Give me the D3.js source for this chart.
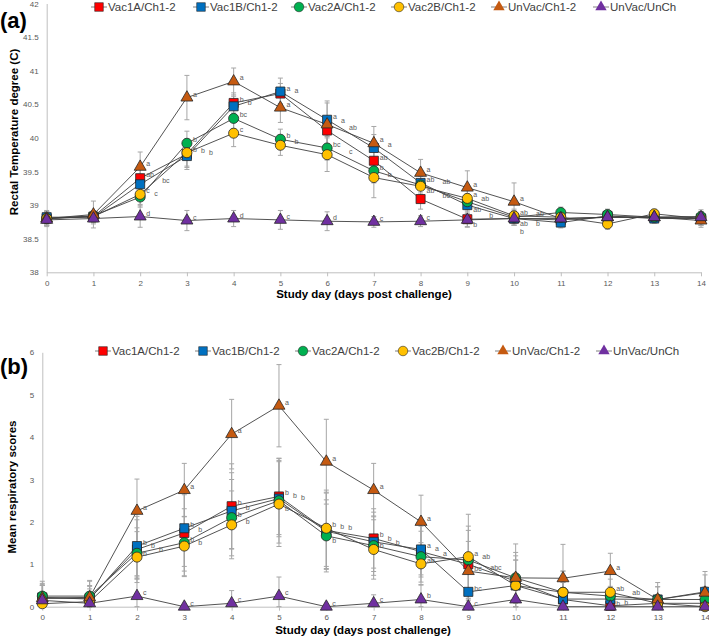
<!DOCTYPE html>
<html>
<head>
<meta charset="utf-8">
<script src="https://cdn.jsdelivr.net/npm/d3@7"></script>
<style>
  body { margin: 0; background: #fff; }
  text { font-family: "Liberation Sans", Arial, sans-serif; }
</style>
</head>
<body>
<div class="chart_area"></div>
<script>
var days = d3.range(0, 15);

var series_names = ["Vac1A/Ch1-2", "Vac1B/Ch1-2", "Vac2A/Ch1-2", "Vac2B/Ch1-2", "UnVac/Ch1-2", "UnVac/UnCh"];
var series_colors = ["#ff0000", "#0070c0", "#00b050", "#ffc000", "#c55a11", "#7030a0"];
var series_shapes = ["square", "square", "circle", "circle", "triangle", "triangle"];

// (a) rectal temperature
var temp_vac1a   = [38.80, 38.83, 39.40, 39.76, 40.52, 40.66, 40.11, 39.66, 39.09, 38.79, 38.80, 38.78, 38.82, 38.82, 38.80];
var temp_vac1b   = [38.82, 38.82, 39.31, 39.73, 40.47, 40.69, 40.27, 39.85, 39.33, 39.00, 38.80, 38.74, 38.84, 38.80, 38.80];
var temp_vac2a   = [38.80, 38.84, 39.12, 39.92, 40.29, 39.98, 39.85, 39.51, 39.30, 39.05, 38.82, 38.89, 38.86, 38.82, 38.83];
var temp_vac2b   = [38.80, 38.83, 39.16, 39.78, 40.07, 39.89, 39.75, 39.41, 39.28, 39.10, 38.84, 38.82, 38.72, 38.87, 38.80];
var temp_unvacch = [38.80, 38.86, 39.57, 40.60, 40.84, 40.45, 40.20, 39.92, 39.48, 39.26, 39.05, 38.80, 38.82, 38.82, 38.77];
var temp_unvacun = [38.78, 38.80, 38.83, 38.77, 38.80, 38.78, 38.76, 38.75, 38.76, 38.78, 38.80, 38.80, 38.82, 38.82, 38.82];

var temp_err_vac1a   = [0.10, 0.08, 0.15, 0.20, 0.15, 0.15, 0.20, 0.20, 0.15, 0.12, 0.10, 0.08, 0.08, 0.07, 0.10];
var temp_err_vac1b   = [0.10, 0.08, 0.15, 0.20, 0.15, 0.20, 0.25, 0.20, 0.15, 0.12, 0.10, 0.08, 0.08, 0.07, 0.10];
var temp_err_vac2a   = [0.10, 0.08, 0.15, 0.18, 0.15, 0.15, 0.18, 0.18, 0.15, 0.12, 0.10, 0.08, 0.08, 0.07, 0.10];
var temp_err_vac2b   = [0.10, 0.08, 0.15, 0.20, 0.20, 0.15, 0.25, 0.30, 0.15, 0.12, 0.10, 0.08, 0.08, 0.07, 0.10];
var temp_err_unvacch = [0.10, 0.20, 0.22, 0.33, 0.20, 0.22, 0.35, 0.25, 0.20, 0.25, 0.28, 0.10, 0.08, 0.07, 0.10];
var temp_err_unvacun = [0.10, 0.08, 0.16, 0.15, 0.12, 0.14, 0.14, 0.08, 0.08, 0.10, 0.10, 0.08, 0.08, 0.07, 0.08];

var temp_lab_vac1a   = ["", "", "ab", "b", "b", "a", "ab", "ab", "bc", "b", "ab", "", "", "", ""];
var temp_lab_vac1b   = ["", "", "bc", "b", "b", "a", "a", "a", "ab", "ab", "b", "", "", "", ""];
var temp_lab_vac2a   = ["", "", "c", "b", "bc", "b", "bc", "b", "ab", "ab", "ab", "", "", "", ""];
var temp_lab_vac2b   = ["", "", "c", "b", "c", "b", "c", "b", "ab", "a", "ab", "", "", "", ""];
var temp_lab_unvacch = ["", "", "a", "a", "a", "a", "a", "a", "a", "a", "a", "", "", "", ""];
var temp_lab_unvacun = ["", "", "d", "c", "d", "c", "d", "c", "c", "b", "b", "", "", "", ""];

// (b) mean respiratory scores
var resp_vac1a   = [0.20, 0.20, 1.35, 1.74, 2.37, 2.60, 1.80, 1.61, 1.30, 1.00, 0.60, 0.17, 0.02, 0.08, 0.08];
var resp_vac1b   = [0.22, 0.18, 1.43, 1.85, 2.26, 2.55, 1.78, 1.53, 1.35, 0.35, 0.50, 0.18, 0.18, 0.17, 0.35];
var resp_vac2a   = [0.25, 0.25, 1.26, 1.51, 2.10, 2.50, 1.67, 1.44, 1.18, 1.10, 0.68, 0.34, 0.25, 0.17, 0.17];
var resp_vac2b   = [0.07, 0.12, 1.17, 1.43, 1.93, 2.42, 1.85, 1.35, 1.01, 1.18, 0.50, 0.34, 0.34, 0.08, 0.00];
var resp_unvacch = [0.20, 0.22, 2.26, 2.75, 4.07, 4.74, 3.42, 2.75, 2.00, 0.84, 0.68, 0.67, 0.84, 0.17, 0.33];
var resp_unvacun = [0.15, 0.08, 0.25, 0.00, 0.08, 0.25, 0.00, 0.08, 0.17, 0.00, 0.17, 0.00, 0.00, 0.00, 0.00];

var resp_err_vac1a   = [0.30, 0.30, 0.70, 0.90, 1.00, 0.90, 0.90, 0.70, 0.60, 0.80, 0.60, 0.40, 0.10, 0.20, 0.30];
var resp_err_vac1b   = [0.30, 0.30, 0.70, 0.90, 0.90, 0.90, 0.90, 0.70, 0.60, 0.50, 0.60, 0.40, 0.30, 0.30, 0.40];
var resp_err_vac2a   = [0.35, 0.35, 0.60, 0.80, 0.90, 1.00, 0.85, 0.70, 0.60, 0.80, 0.60, 0.50, 0.40, 0.30, 0.30];
var resp_err_vac2b   = [0.20, 0.30, 0.60, 0.70, 0.80, 1.00, 0.90, 0.70, 0.50, 1.00, 0.60, 0.50, 0.50, 0.20, 0.10];
var resp_err_unvacch = [0.35, 0.40, 0.75, 0.63, 0.82, 0.97, 1.00, 0.63, 0.63, 0.70, 0.80, 0.80, 0.42, 0.40, 0.50];
var resp_err_unvacun = [0.35, 0.20, 0.45, 0.00, 0.30, 0.45, 0.00, 0.20, 0.35, 0.00, 0.35, 0.00, 0.00, 0.00, 0.00];

var resp_lab_vac1a   = ["", "", "b", "b", "b", "b", "b", "b", "a", "bc", "", "", "b", "", ""];
var resp_lab_vac1b   = ["", "", "b", "b", "b", "b", "b", "b", "a", "bc", "", "", "b", "", ""];
var resp_lab_vac2a   = ["", "", "b", "b", "b", "b", "b", "b", "a", "ab", "", "", "ab", "", ""];
var resp_lab_vac2b   = ["", "", "b", "b", "b", "b", "b", "b", "ab", "a", "", "", "ab", "", ""];
var resp_lab_unvacch = ["", "", "a", "a", "a", "a", "a", "a", "a", "abc", "", "", "a", "", ""];
var resp_lab_unvacun = ["", "", "c", "c", "c", "c", "c", "c", "b", "c", "", "", "", "", ""];

var temp_ticks = [38, 38.5, 39, 39.5, 40, 40.5, 41, 41.5, 42];
var resp_ticks = [0, 1, 2, 3, 4, 5, 6];

var svg = d3.select(".chart_area")
    .append("svg")
    .attr("width", 709)
    .attr("height", 636);

function symbolFor(shape) {
    if (shape == "square") return d3.symbol().type(d3.symbolSquare).size(82)();
    if (shape == "circle") return d3.symbol().type(d3.symbolCircle).size(80)();
    return d3.symbol().type(d3.symbolTriangle).size(62)();
}

function drawPanel(p) {
    var x = d3.scaleLinear().domain([0, 14]).range([p.left, p.right]);
    var y = d3.scaleLinear().domain(p.domain).range([p.bottom, p.top]);
    var g = svg.append("g");

    // axes
    var yAxis = g.append("g")
        .attr("transform", "translate(" + p.left + ",0)")
        .call(d3.axisLeft(y).tickValues(p.ticks).tickFormat(d3.format("~g")).tickSize(0).tickPadding(8));
    yAxis.select(".domain").attr("stroke", "#bfbfbf");
    yAxis.selectAll("text").attr("fill", "#595959").style("font-size", "8px");

    var xAxis = g.append("g")
        .attr("transform", "translate(0," + p.bottom + ")")
        .call(d3.axisBottom(x).tickValues(days).tickSize(4).tickSizeOuter(0).tickPadding(4));
    xAxis.select(".domain").attr("stroke", "#bfbfbf");
    xAxis.selectAll("line").attr("stroke", "#bfbfbf");
    xAxis.selectAll("text").attr("fill", "#595959").style("font-size", "8px");

    g.append("text")
        .attr("x", p.xTitleX).attr("y", p.xTitleY)
        .attr("text-anchor", "middle")
        .style("font-size", "11.5px").style("font-weight", "bold")
        .text("Study day (days post challenge)");

    g.append("text")
        .attr("transform", "translate(" + p.yTitleX + "," + p.yTitleY + ") rotate(-90)")
        .attr("text-anchor", "middle")
        .style("font-size", "11.5px").style("font-weight", "bold")
        .text(p.yTitle);

    g.append("text")
        .attr("x", p.panelX).attr("y", p.panelY)
        .style("font-size", "22px").style("font-weight", "bold")
        .text(p.panel);

    var line = d3.line().x(function(d, i){ return x(days[i]); }).y(function(d){ return y(d); });

    p.means.forEach(function(m, s) {
        var errs = p.errs[s];
        // error bars
        var eb = g.append("g").attr("stroke", "#a6a6a6").attr("stroke-width", 1);
        m.forEach(function(v, i) {
            if (errs[i] <= 0) return;
            var lo = Math.max(p.domain[0], v - errs[i]), hi = Math.min(p.domain[1], v + errs[i]);
            eb.append("line").attr("x1", x(days[i])).attr("x2", x(days[i])).attr("y1", y(lo)).attr("y2", y(hi));
            eb.append("line").attr("x1", x(days[i]) - 2.5).attr("x2", x(days[i]) + 2.5).attr("y1", y(hi)).attr("y2", y(hi));
            eb.append("line").attr("x1", x(days[i]) - 2.5).attr("x2", x(days[i]) + 2.5).attr("y1", y(lo)).attr("y2", y(lo));
        });
        g.append("path").datum(m)
            .attr("fill", "none").attr("stroke", "#404040").attr("stroke-width", 0.9)
            .attr("d", line);
    });

    p.means.forEach(function(m, s) {
        g.append("g").selectAll("path")
            .data(m)
            .enter()
            .append("path")
            .attr("d", symbolFor(series_shapes[s]))
            .attr("transform", function(d, i){ return "translate(" + x(days[i]) + "," + y(d) + ")"; })
            .attr("fill", series_colors[s])
            .attr("stroke", "#262626").attr("stroke-width", 0.8);
    });

    // letters: greedy placement so close letters sit side by side or just below
    var labs = [];
    p.labels.forEach(function(arr, s) {
        arr.forEach(function(t, i) {
            if (t) labs.push({ day: i, text: t, w: t.length * 4.3 + 1, ly: y(p.means[s][i]) - 1 });
        });
    });
    labs.sort(function(a, b){ return a.ly - b.ly; });
    var placed = [];
    function hits(bx, by, w) {
        return placed.some(function(q){
            return bx < q.lx + q.w && q.lx < bx + w && by - 8 < q.ly && q.ly - 8 < by;
        });
    }
    labs.forEach(function(d) {
        var base = x(days[d.day]) + 6, ok = false;
        for (var dy = 0; dy <= 40 && !ok; dy += 8) {
            for (var dx = 0; dx <= 16 && !ok; dx += 8) {
                if (!hits(base + dx, d.ly + dy, d.w)) { d.lx = base + dx; d.ly = d.ly + dy; ok = true; }
            }
        }
        if (!ok) d.lx = base;
        placed.push(d);
    });
    g.append("g").selectAll("text")
        .data(labs)
        .enter()
        .append("text")
        .attr("x", function(d){ return d.lx; })
        .attr("y", function(d){ return d.ly; })
        .attr("fill", "#595959")
        .style("font-size", "7px")
        .text(function(d){ return d.text; });

    // legend
    var lg = g.append("g");
    series_names.forEach(function(name, s) {
        var lx = p.legendX[s];
        lg.append("line").attr("x1", lx - 8).attr("x2", lx + 8).attr("y1", p.legendY).attr("y2", p.legendY)
            .attr("stroke", "#808080").attr("stroke-width", 1);
        lg.append("path").attr("d", symbolFor(series_shapes[s]))
            .attr("transform", "translate(" + lx + "," + p.legendY + ") scale(0.95)")
            .attr("fill", series_colors[s]).attr("stroke", series_shapes[s] == "triangle" ? "none" : "#262626")
            .attr("stroke-width", 0.6);
        lg.append("text").attr("x", lx + 9).attr("y", p.legendY + 4)
            .attr("fill", "#404040")
            .style("font-size", "11.5px")
            .text(name);
    });
}

drawPanel({
    left: 46.7, right: 701, top: 3.5, bottom: 272.3,
    domain: [38, 42], ticks: temp_ticks,
    means: [temp_vac1a, temp_vac1b, temp_vac2a, temp_vac2b, temp_unvacch, temp_unvacun],
    errs: [temp_err_vac1a, temp_err_vac1b, temp_err_vac2a, temp_err_vac2b, temp_err_unvacch, temp_err_unvacun],
    labels: [temp_lab_vac1a, temp_lab_vac1b, temp_lab_vac2a, temp_lab_vac2b, temp_lab_unvacch, temp_lab_unvacun],
    yTitle: "Rectal Temperature  degree  (C)", yTitleX: 18, yTitleY: 132,
    xTitleX: 364, xTitleY: 298,
    panel: "(a)", panelX: 0, panelY: 28,
    legendX: [99, 201, 299, 399, 499, 601], legendY: 7
});

drawPanel({
    left: 42.3, right: 705, top: 352.3, bottom: 606.7,
    domain: [0, 6], ticks: resp_ticks,
    means: [resp_vac1a, resp_vac1b, resp_vac2a, resp_vac2b, resp_unvacch, resp_unvacun],
    errs: [resp_err_vac1a, resp_err_vac1b, resp_err_vac2a, resp_err_vac2b, resp_err_unvacch, resp_err_unvacun],
    labels: [resp_lab_vac1a, resp_lab_vac1b, resp_lab_vac2a, resp_lab_vac2b, resp_lab_unvacch, resp_lab_unvacun],
    yTitle: "Mean respiratory scores", yTitleX: 16, yTitleY: 487,
    xTitleX: 363, xTitleY: 634,
    panel: "(b)", panelX: 0, panelY: 374,
    legendX: [103, 203, 303, 403, 503, 604], legendY: 351
});
</script>
</body>
</html>
